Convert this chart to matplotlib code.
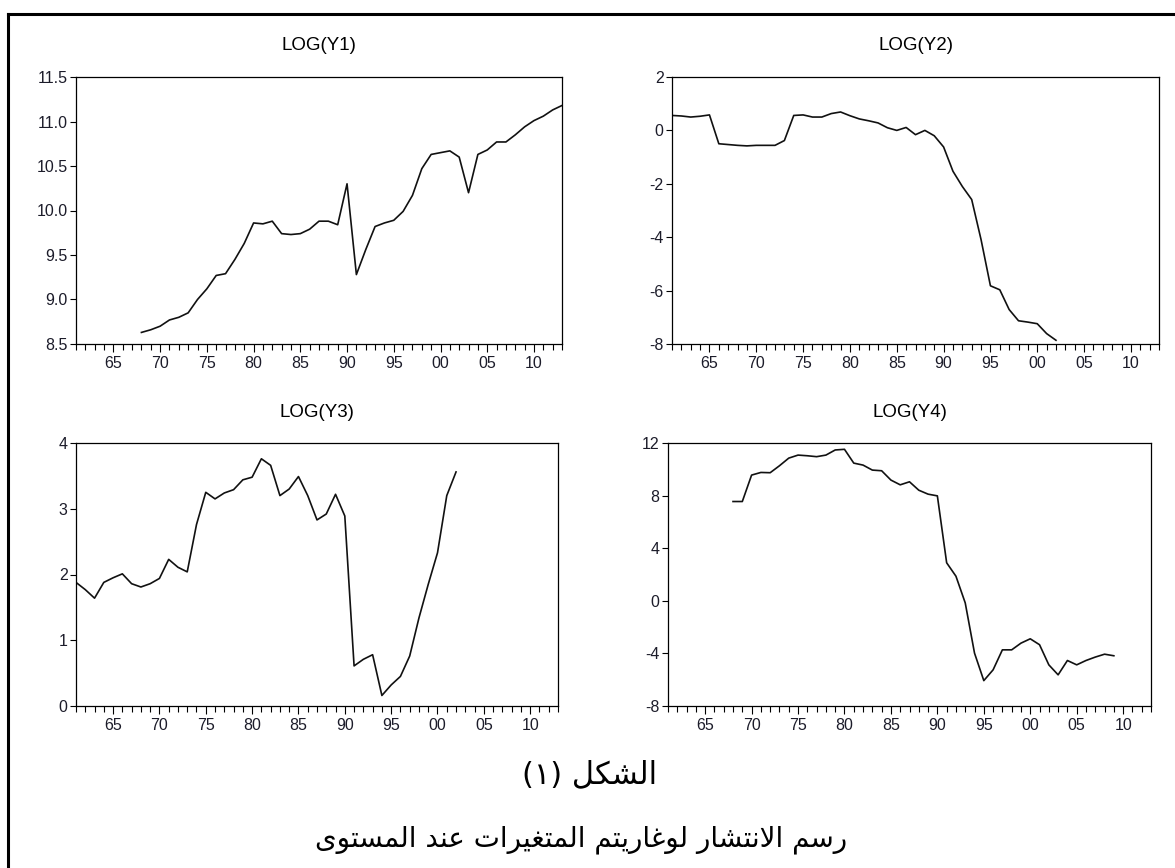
import numpy as np
import matplotlib
matplotlib.use("Agg")
import matplotlib.pyplot as plt
from matplotlib.lines import Line2D
from matplotlib.ticker import FixedLocator, FuncFormatter

# ---- datos (años y logaritmos de las series) ----
years_y1 = list(range(1968, 2014))
log_y1 = [8.63, 8.66, 8.70, 8.77, 8.80, 8.85, 9.00, 9.12, 9.27, 9.29,
          9.45, 9.63, 9.86, 9.85, 9.88, 9.74, 9.73, 9.74, 9.79, 9.88,
          9.88, 9.84, 10.30, 9.28, 9.56, 9.82, 9.86, 9.89, 9.99, 10.17,
          10.47, 10.63, 10.65, 10.67, 10.60, 10.20, 10.63, 10.68, 10.77, 10.77,
          10.85, 10.94, 11.01, 11.06, 11.13, 11.18]

years_y2 = list(range(1961, 2003))
log_y2 = [0.56, 0.54, 0.50, 0.53, 0.58, -0.50, -0.53, -0.56, -0.58, -0.56,
          -0.56, -0.56, -0.38, 0.56, 0.58, 0.50, 0.50, 0.63, 0.69, 0.55,
          0.43, 0.36, 0.28, 0.10, 0.00, 0.11, -0.16, 0.00, -0.20, -0.62,
          -1.53, -2.10, -2.59, -4.09, -5.82, -5.97, -6.71, -7.13, -7.18, -7.24,
          -7.61, -7.86]

years_y3 = list(range(1961, 2003))
log_y3 = [1.88, 1.77, 1.64, 1.88, 1.95, 2.01, 1.86, 1.81, 1.86, 1.94,
          2.23, 2.11, 2.04, 2.76, 3.25, 3.15, 3.24, 3.29, 3.44, 3.48,
          3.76, 3.66, 3.20, 3.30, 3.49, 3.20, 2.83, 2.92, 3.22, 2.89,
          0.61, 0.71, 0.78, 0.16, 0.32, 0.45, 0.76, 1.34, 1.85, 2.33,
          3.20, 3.56]

years_y4 = list(range(1968, 2010))
log_y4 = [7.55, 7.55, 9.56, 9.76, 9.74, 10.27, 10.85, 11.08, 11.03, 10.96,
          11.08, 11.47, 11.52, 10.47, 10.32, 9.94, 9.89, 9.18, 8.82, 9.05,
          8.41, 8.11, 7.98, 2.89, 1.87, -0.16, -3.98, -6.07, -5.25, -3.73,
          -3.73, -3.22, -2.89, -3.34, -4.87, -5.63, -4.54, -4.87, -4.54, -4.28,
          -4.06, -4.18]

titles = ["LOG(Y1)", "LOG(Y2)", "LOG(Y3)", "LOG(Y4)"]
yticks = [
    [8.5, 9.0, 9.5, 10.0, 10.5, 11.0, 11.5],
    [-8, -6, -4, -2, 0, 2],
    [0, 1, 2, 3, 4],
    [-8, -4, 0, 4, 8, 12],
]
yfmt = ["{:.1f}", "{:d}", "{:d}", "{:d}"]
major_years = list(range(1965, 2011, 5))

caption_1 = "الشكل (١)"
caption_2 = "رسم الانتشار لوغاريتم المتغيرات عند المستوى"

# ---- formas de presentación árabes (matplotlib no hace "shaping") ----
FORMS = {
    'ا': (0xFE8D, 2), 'د': (0xFEA9, 2), 'ر': (0xFEAD, 2), 'و': (0xFEED, 2),
    'ى': (0xFEEF, 2),
    'ب': (0xFE8F, 4), 'ت': (0xFE95, 4), 'س': (0xFEB1, 4), 'ش': (0xFEB5, 4),
    'ع': (0xFEC9, 4), 'غ': (0xFECD, 4), 'ك': (0xFED9, 4), 'ل': (0xFEDD, 4),
    'م': (0xFEE1, 4), 'ن': (0xFEE5, 4), 'ي': (0xFEF1, 4),
}


def shape_arabic(text):
    tokens = []
    i = 0
    while i < len(text):
        if text[i] == 'ل' and i + 1 < len(text) and text[i + 1] == 'ا':
            tokens.append('LA')
            i += 2
        else:
            tokens.append(text[i])
            i += 1

    def joins_next(t):
        return t in FORMS and FORMS[t][1] == 4

    out = []
    for k, t in enumerate(tokens):
        prev = tokens[k - 1] if k > 0 else None
        nxt = tokens[k + 1] if k + 1 < len(tokens) else None
        conn_prev = prev is not None and joins_next(prev)
        if t == 'LA':
            out.append(chr(0xFEFC if conn_prev else 0xFEFB))
            continue
        if t not in FORMS:
            out.append(t)
            continue
        base, nforms = FORMS[t]
        conn_next = nforms == 4 and nxt is not None and (nxt in FORMS or nxt == 'LA')
        if conn_prev and conn_next:
            code = base + 3
        elif conn_prev:
            code = base + 1
        elif conn_next:
            code = base + 2
        else:
            code = base
        out.append(chr(code))
    mirror = {'(': ')', ')': '('}
    return ''.join(mirror.get(c, c) for c in reversed(out))


plt.rcParams['font.family'] = ['Liberation Sans', 'DejaVu Sans']

W, H = 1175, 868
fig = plt.figure(figsize=(W / 100, H / 100), dpi=100)

# marco exterior
fig.add_artist(Line2D([8 / W, 1.0], [1 - 14 / H, 1 - 14 / H], color='black', lw=2.2))
fig.add_artist(Line2D([8 / W, 8 / W], [0.0, 1 - 14 / H], color='black', lw=2.2))

# cajas de los paneles (izq, arriba, der, abajo) en px
boxes = [(76, 77, 562, 344), (672, 77, 1159, 344),
         (76, 443, 558, 706), (668, 443, 1151, 706)]
series = [(years_y1, log_y1), (years_y2, log_y2),
          (years_y3, log_y3), (years_y4, log_y4)]

label_color = '#1c1c2a'

for idx, (box, (xs, ys)) in enumerate(zip(boxes, series)):
    l, t, r, b = box
    ax = fig.add_axes([l / W, 1 - b / H, (r - l) / W, (b - t) / H])
    ax.plot(xs, ys, color='#111111', lw=1.2)
    ax.set_xlim(1961, 2013)
    ax.set_ylim(yticks[idx][0], yticks[idx][-1])
    ax.set_yticks(yticks[idx])
    f = yfmt[idx]
    ax.set_yticklabels([f.format(v if f == "{:.1f}" else int(v)) for v in yticks[idx]])
    ax.xaxis.set_major_locator(FixedLocator(major_years))
    ax.xaxis.set_minor_locator(FixedLocator(range(1961, 2014)))
    ax.xaxis.set_major_formatter(FuncFormatter(lambda v, p: "%02d" % (int(round(v)) % 100)))
    ax.tick_params(axis='x', which='major', length=6, width=0.8, pad=3,
                   labelsize=11.5, labelcolor=label_color)
    ax.tick_params(axis='x', which='minor', length=4, width=0.8)
    ax.tick_params(axis='y', length=4, width=0.8, pad=2,
                   labelsize=11.5, labelcolor=label_color)
    for s in ax.spines.values():
        s.set_linewidth(0.9)
    fig.text((l + r) / 2 / W, 1 - (t - 31) / H, titles[idx],
             ha='center', va='center', fontsize=13.5)

fig.text(590 / W, 1 - 775 / H, shape_arabic(caption_1), ha='center', va='center',
         fontsize=22, family='DejaVu Sans')
fig.text(581 / W, 1 - 840 / H, shape_arabic(caption_2), ha='center', va='center',
         fontsize=20, family='DejaVu Sans')

fig.savefig("out.png", dpi=100)
